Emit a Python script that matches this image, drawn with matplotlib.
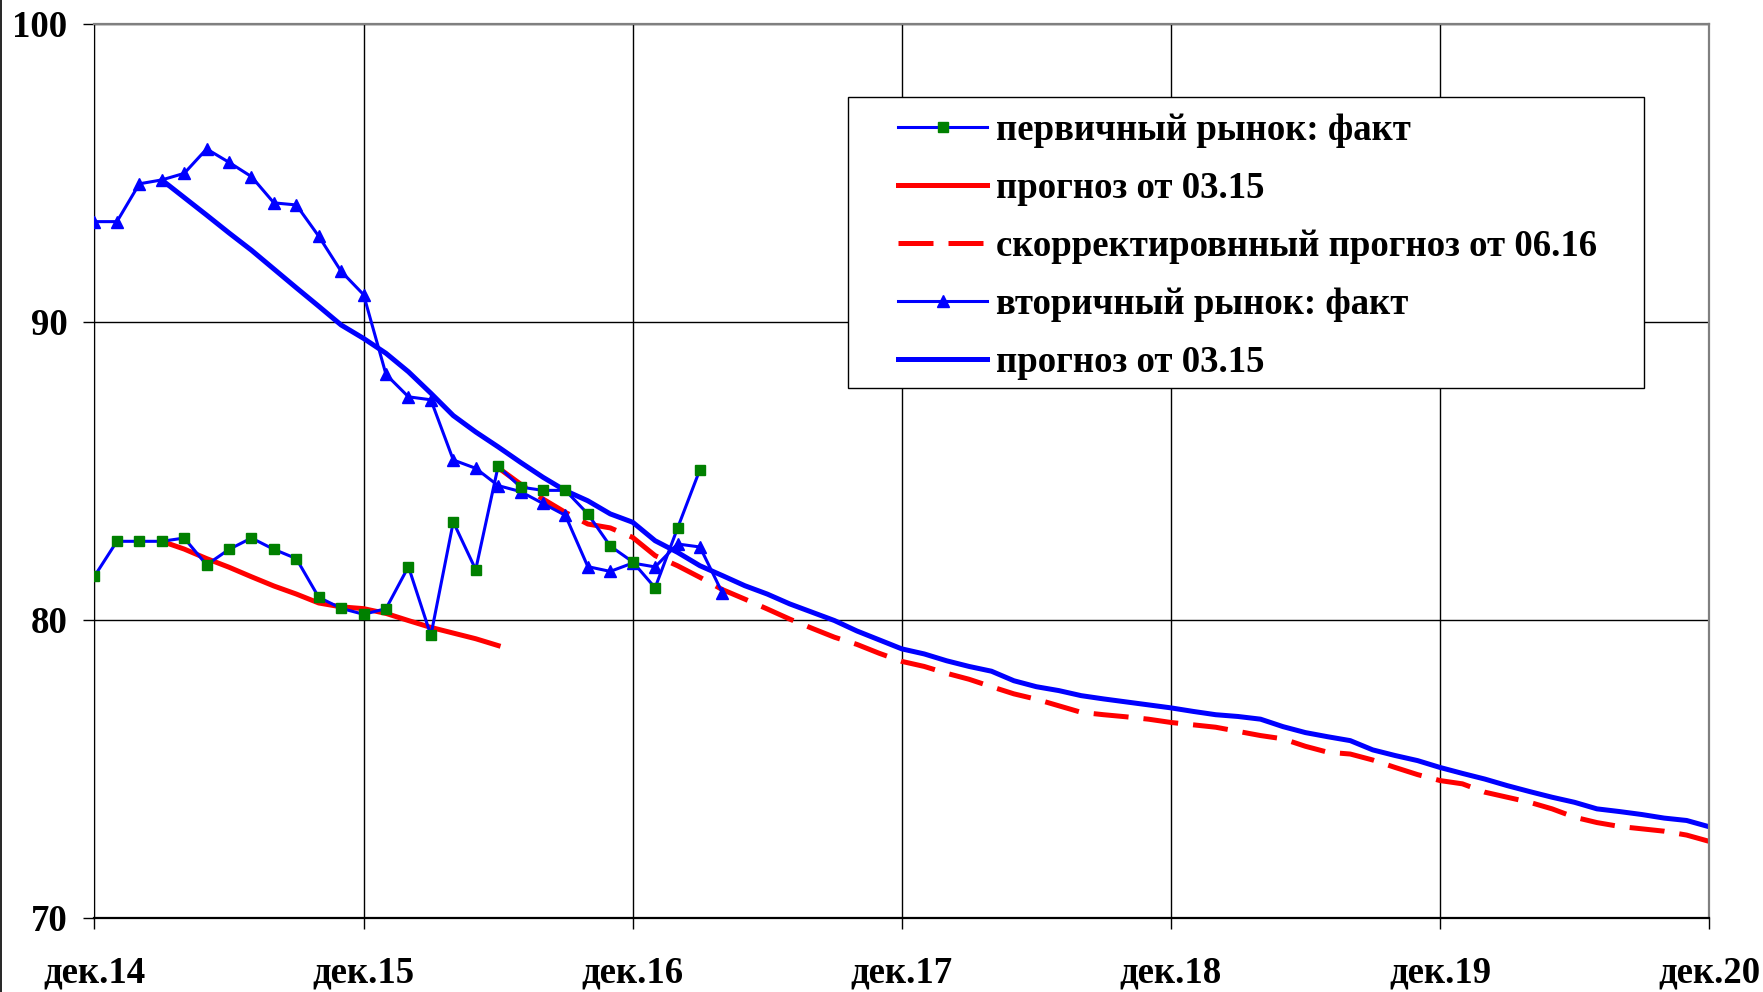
#!/usr/bin/env python3
"""
Price index: primary vs secondary housing market, actuals and forecasts, dec.14 - dec.20.
"""

import matplotlib
matplotlib.use("Agg")
import matplotlib.pyplot as plt
from matplotlib.lines import Line2D
from matplotlib.patches import Rectangle


# month index: 0 = dec.14, 72 = dec.20
YEAR_TICKS = [0, 12, 24, 36, 48, 60, 72]
YEAR_LABELS = ["дек.14", "дек.15", "дек.16", "дек.17", "дек.18", "дек.19", "дек.20"]

# primary market, actual (dec.14 .. mar.17)
primary_start = 0
primary_fact = [
    81.46, 82.63, 82.63, 82.63, 82.74, 81.84, 82.36, 82.74, 82.36, 82.05,
    80.75, 80.38, 80.18, 80.37, 81.78, 79.47, 83.28, 81.68, 85.15, 84.45,
    84.34, 84.34, 83.55, 82.47, 81.94, 81.07, 83.07, 85.04,
]

# primary market, forecast of 03.15 (mar.15 .. jun.16)
primary_fc_start = 3
primary_fc_0315 = [
    82.63, 82.37, 82.05, 81.76, 81.44, 81.13, 80.86, 80.56, 80.43, 80.37,
    80.21, 79.97, 79.74, 79.55, 79.36, 79.13,
]

# primary market, corrected forecast of 06.16 (jun.16 .. dec.20)
primary_fc2_start = 18
primary_fc_0616 = [
    85.10, 84.55, 84.05, 83.60, 83.21, 83.08, 82.76, 82.15, 81.81, 81.42,
    81.01, 80.69, 80.36, 80.02, 79.71, 79.41, 79.17, 78.87, 78.60,
    78.43, 78.20, 78.00, 77.75, 77.51, 77.33, 77.11, 76.89, 76.81, 76.74,
    76.66, 76.55, 76.47, 76.39, 76.25, 76.11, 76.00, 75.75, 75.55, 75.49,
    75.29, 75.04, 74.80, 74.60, 74.49, 74.21, 74.04, 73.87, 73.65, 73.37,
    73.19, 73.06, 72.98, 72.90, 72.77, 72.56,
]

# secondary market, actual (dec.14 .. apr.17)
secondary_start = 0
secondary_fact = [
    93.36, 93.36, 94.63, 94.76, 94.98, 95.80, 95.35, 94.87, 93.99, 93.92,
    92.87, 91.69, 90.91, 88.23, 87.48, 87.38, 85.36, 85.08, 84.50, 84.30,
    83.90, 83.50, 81.78, 81.62, 81.90, 81.77, 82.54, 82.44, 80.90,
]

# secondary market, forecast of 03.15 (mar.15 .. dec.20)
secondary_fc_start = 3
secondary_fc_0315 = [
    94.76, 94.17, 93.58, 92.98, 92.40, 91.77, 91.14, 90.52, 89.89, 89.44,
    88.94, 88.32, 87.60, 86.85, 86.30, 85.80, 85.28, 84.78, 84.33, 83.99,
    83.55, 83.27, 82.65, 82.26, 81.81, 81.48, 81.14, 80.86, 80.53, 80.25,
    79.97, 79.62, 79.32, 79.02, 78.85, 78.62, 78.43, 78.27, 77.95, 77.75,
    77.62, 77.45, 77.34, 77.24, 77.14, 77.04, 76.92, 76.81, 76.75, 76.66,
    76.41, 76.21, 76.07, 75.94, 75.63, 75.44, 75.27, 75.04, 74.84, 74.65,
    74.43, 74.23, 74.04, 73.87, 73.65, 73.56, 73.46, 73.34, 73.26, 73.05,
]

LABELS = [
    "первичный рынок: факт",
    "прогноз от 03.15",
    "скорректировнный прогноз от 06.16",
    "вторичный рынок: факт",
    "прогноз от 03.15",
]

BLUE = "#0000ff"
RED = "#ff0000"
GREEN = "#008000"
FONT = "Liberation Serif"
FS = 26.5


def xs(start, values):
    return list(range(start, start + len(values)))


def main() -> None:
    plt.rcParams["font.family"] = [FONT, "DejaVu Serif"]
    plt.rcParams["font.weight"] = "bold"

    fig = plt.figure(figsize=(17.63, 9.92), dpi=100)
    ax = fig.add_axes([0.0536, 0.075, 0.9158, 0.901])

    # forecasts underneath
    fc_sec, = ax.plot(xs(secondary_fc_start, secondary_fc_0315), secondary_fc_0315,
                      color=BLUE, lw=3.6, solid_joinstyle="round", zorder=2)
    fc_pri2, = ax.plot(xs(primary_fc2_start, primary_fc_0616), primary_fc_0616,
                       color=RED, lw=3.6, dashes=(7, 3), zorder=2)
    fc_pri, = ax.plot(xs(primary_fc_start, primary_fc_0315), primary_fc_0315,
                      color=RED, lw=3.6, zorder=2)

    # actuals on top
    act_sec, = ax.plot(xs(secondary_start, secondary_fact), secondary_fact,
                       color=BLUE, lw=2.2, marker="^", ms=9, mfc=BLUE, mec=BLUE, zorder=3)
    act_pri, = ax.plot(xs(primary_start, primary_fact), primary_fact,
                       color=BLUE, lw=2.2, marker="s", ms=7.5, mfc=GREEN, mec=GREEN, zorder=4)

    ax.set_xlim(0, 72)
    ax.set_ylim(70, 100)
    ax.set_xticks(YEAR_TICKS, YEAR_LABELS)
    ax.set_yticks([70, 80, 90, 100])
    ax.tick_params(axis="both", direction="out", length=8, width=1.0, labelsize=FS)
    ax.tick_params(axis="x", pad=19)
    ax.tick_params(axis="y", pad=11.5)
    for lab in ax.get_xticklabels() + ax.get_yticklabels():
        lab.set_fontweight("bold")

    ax.grid(True, color="black", lw=1.0)
    ax.set_axisbelow(True)
    ax.spines["left"].set_color("black")
    ax.spines["bottom"].set_color("black")
    ax.spines["bottom"].set_linewidth(1.6)
    ax.spines["top"].set_color("#808080")
    ax.spines["right"].set_color("#808080")
    ax.spines["top"].set_linewidth(1.6)
    ax.spines["right"].set_linewidth(1.6)

    # legend box
    ax.add_patch(Rectangle((0.467, 0.592), 0.493, 0.326, transform=ax.transAxes,
                           facecolor="white", edgecolor="black", lw=1.0, zorder=5))
    leg = ax.legend([act_pri, fc_pri, fc_pri2, act_sec, fc_sec], LABELS,
                    loc="upper left", bbox_to_anchor=(0.4865, 0.9205),
                    frameon=False, borderpad=0, numpoints=1,
                    handlelength=2.4, handletextpad=0.25, labelspacing=0.62,
                    prop={"family": FONT, "weight": "bold", "size": FS})
    leg.set_zorder(6)

    # outer frame edge on the left
    fig.add_artist(Line2D([0.0008, 0.0008], [0, 1], transform=fig.transFigure,
                          color="black", lw=1.2))

    fig.savefig("out.png", dpi=100)
    plt.close(fig)


if __name__ == "__main__":
    main()
